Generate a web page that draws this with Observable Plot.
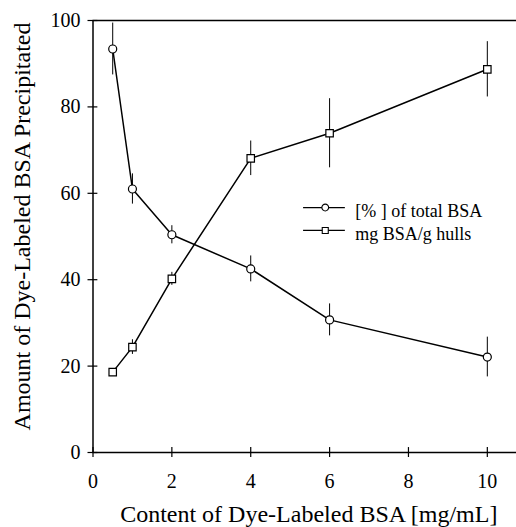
<!DOCTYPE html>
<html><head><meta charset="utf-8">
<script src="https://cdn.jsdelivr.net/npm/d3@7"></script>
<script src="https://cdn.jsdelivr.net/npm/@observablehq/plot@0.6"></script>
<style>body{margin:0;background:#fff;} svg text{font-family:'Liberation Serif','Times New Roman',serif;}</style>
</head><body><div id="chart"></div>
<script>
const conc = [0.5, 1, 2, 4, 6, 10];
const pctTotal = [93.4, 61.0, 50.4, 42.5, 30.7, 22.1];
const pctErr = [6.0, 3.5, 2.1, 3.0, 3.7, 4.6];
const mgPerG = [18.6, 24.4, 40.2, 68.1, 73.9, 88.7];
const mgErr = [0.6, 1.7, 1.5, 4.0, 8.0, 6.4];
const seriesNames = ["[% ] of total BSA", "mg BSA/g hulls"];
const seriesSymbols = ["circle", "square"];
const xTicks = [0, 2, 4, 6, 8, 10];
const yTicks = [0, 20, 40, 60, 80, 100];
const xLabel = "Content of Dye-Labeled BSA [mg/mL]";
const yLabel = "Amount of Dye-Labeled BSA Precipitated";

const rowsPct = conc.map((c, i) => ({c, v: pctTotal[i], e: pctErr[i]}));
const rowsMg = conc.map((c, i) => ({c, v: mgPerG[i], e: mgErr[i]}));
// legend layout (in data units of the plot)
const legendY = [56.7, 51.4];
const legendRows = seriesNames.map((name, i) => ({name, symbol: seriesSymbols[i], y: legendY[i]}));

const fontFam = "'Liberation Serif', 'Times New Roman', serif";

function seriesMarks(rows, symbol, r) {
  return [
    Plot.ruleX(rows, {x: "c", y1: d => d.v - d.e, y2: d => d.v + d.e, stroke: "black", strokeWidth: 1}),
    Plot.line(rows, {x: "c", y: "v", stroke: "black", strokeWidth: 1.5}),
    Plot.dot(rows, {x: "c", y: "v", symbol, r, fill: "white", stroke: "black", strokeWidth: 1.2})
  ];
}

const plot = Plot.plot({
  width: 516, height: 527,
  marginLeft: 92.5, marginRight: 0, marginTop: 20, marginBottom: 75,
  style: {fontFamily: fontFam, background: "white", color: "black"},
  x: {domain: [0, 10.74], axis: null},
  y: {domain: [0, 100], axis: null},
  marks: [
    Plot.text(xTicks, {x: d => d, y: 0, text: d => String(d), textAnchor: "middle", lineAnchor: "middle", dy: 29.5, fontSize: 20, fontFamily: fontFam, fill: "black"}),
    Plot.text(yTicks, {x: 0, y: d => d, text: d => String(d), textAnchor: "end", lineAnchor: "middle", dx: -12.5, fontSize: 20, fontFamily: fontFam, fill: "black"}),
    Plot.ruleX([0], {stroke: "black", strokeWidth: 1.5}),
    Plot.ruleY([0], {stroke: "black", strokeWidth: 1.5}),
    Plot.ruleY([100], {stroke: "black", strokeWidth: 1.5}),
    Plot.ruleY(yTicks, {y: d => d, x1: 0, x2: 0.25, dx: -5, stroke: "black", strokeWidth: 1.2}),
    Plot.ruleX(xTicks, {x: d => d, y1: 0, y2: 2.3, dy: 5, stroke: "black", strokeWidth: 1.2}),
    ...seriesMarks(rowsPct, "circle", 4),
    ...seriesMarks(rowsMg, "square", 4.2),
    Plot.ruleY(legendRows, {y: "y", x1: 5.34, x2: 6.40, stroke: "black", strokeWidth: 1.2}),
    Plot.dot(legendRows, {x: 5.89, y: "y", symbol: "symbol", r: 3.4, fill: "white", stroke: "black", strokeWidth: 1.1}),
    Plot.text(legendRows, {x: 6.65, y: "y", text: "name", textAnchor: "start", lineAnchor: "middle", dy: 4, fontSize: 18, fontFamily: fontFam, fill: "black"}),
    Plot.text([yLabel], {frameAnchor: "left", rotate: -90, dx: -71, dy: -10, fontSize: 24, fontFamily: fontFam, textAnchor: "middle", lineAnchor: "middle", fill: "black"}),
    Plot.text([xLabel], {frameAnchor: "bottom", dx: 4, dy: 62, fontSize: 24, fontFamily: fontFam, textAnchor: "middle", lineAnchor: "middle", fill: "black"})
  ]
});
document.getElementById("chart").appendChild(plot);
</script>
</body></html>
